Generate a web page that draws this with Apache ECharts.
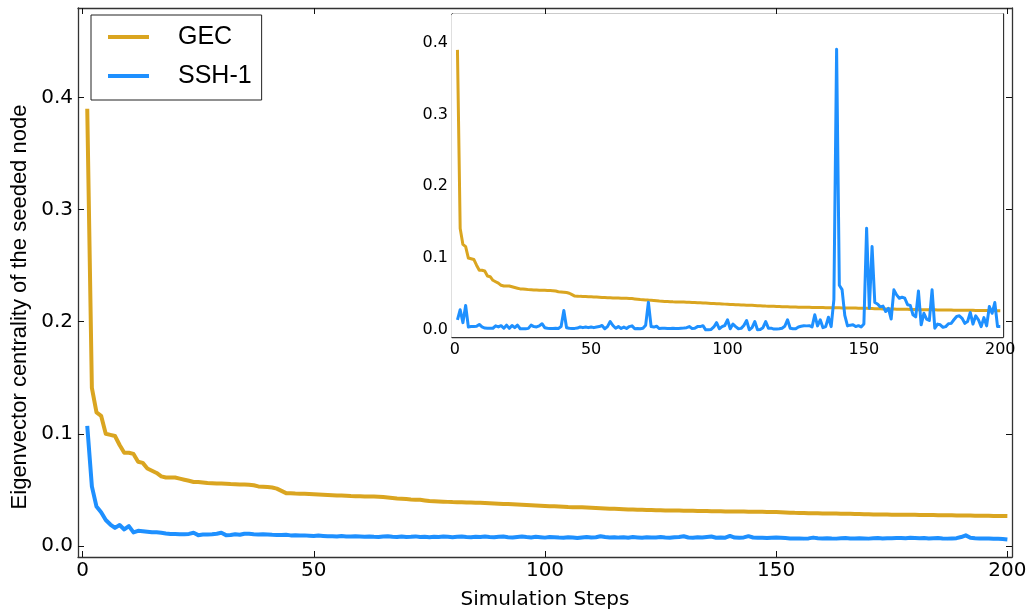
<!DOCTYPE html>
<html>
<head>
<meta charset="utf-8">
<script src="https://cdn.jsdelivr.net/npm/echarts@6/dist/echarts.min.js"></script>
<style>
  html, body { margin: 0; padding: 0; background: #fff; }
  #chart { width: 1031px; height: 614px; }
</style>
</head>
<body>
<div id="chart"></div>
<script>
// simulation steps 1..200
const steps = Array.from({ length: 200 }, (_, i) => i + 1);

// GEC (same curve in main plot and inset)
const gecValues = [
  0.390, 0.141, 0.119, 0.116, 0.100, 0.099, 0.098, 0.090, 0.083, 0.083,
  0.082, 0.075, 0.074, 0.069, 0.067, 0.065, 0.062, 0.061, 0.061, 0.061,
  0.060, 0.059, 0.058, 0.057, 0.057, 0.0565, 0.056, 0.0558, 0.0556, 0.0555,
  0.0553, 0.0551, 0.055, 0.0548, 0.0547, 0.0545, 0.054, 0.053, 0.0528, 0.0525,
  0.052, 0.051, 0.049, 0.047, 0.0468, 0.0466, 0.0465, 0.0464, 0.0462, 0.046,
  0.0458, 0.0456, 0.0454, 0.0452, 0.045, 0.0448, 0.0446, 0.0444, 0.0443, 0.0442,
  0.0441, 0.044, 0.0439, 0.0438, 0.0435, 0.0431, 0.0427, 0.0423, 0.042, 0.0417,
  0.0414, 0.0412, 0.041, 0.0405, 0.040, 0.0398, 0.0396, 0.0394, 0.0392, 0.039,
  0.0389, 0.0388, 0.0387, 0.0386, 0.0385, 0.0384, 0.0382, 0.038, 0.0378, 0.0376,
  0.0374, 0.0372, 0.037, 0.0368, 0.0366, 0.0364, 0.0362, 0.036, 0.0358, 0.0356,
  0.0354, 0.0352, 0.035, 0.0348, 0.0346, 0.0345, 0.0344, 0.0343, 0.0341, 0.0339,
  0.0337, 0.0335, 0.0333, 0.0331, 0.033, 0.0329, 0.0327, 0.0325, 0.0324, 0.0322,
  0.0321, 0.032, 0.0319, 0.0318, 0.0317, 0.0316, 0.0315, 0.0315, 0.0314, 0.0313,
  0.0312, 0.0312, 0.0311, 0.031, 0.031, 0.0309, 0.0309, 0.0308, 0.0307, 0.0306,
  0.0306, 0.0305, 0.0305, 0.0304, 0.0304, 0.0303, 0.0303, 0.0302, 0.0302, 0.0301,
  0.0300, 0.0298, 0.0296, 0.0294, 0.0293, 0.0292, 0.0291, 0.029, 0.029, 0.0289,
  0.0289, 0.0288, 0.0288, 0.0287, 0.0286, 0.0285, 0.0284, 0.0283, 0.0282, 0.0281,
  0.028, 0.028, 0.0279, 0.0279, 0.0278, 0.0278, 0.0277, 0.0277, 0.0276, 0.0276,
  0.0275, 0.0275, 0.0274, 0.0274, 0.0273, 0.0273, 0.0272, 0.0272, 0.0271, 0.0271,
  0.027, 0.027, 0.0269, 0.0269, 0.0268, 0.0268, 0.0267, 0.0267, 0.0266, 0.0265
];

// SSH-1 averaged (main plot)
const sshMean = [
  0.107, 0.053, 0.035, 0.030, 0.023, 0.019, 0.016, 0.0185, 0.0146, 0.0176,
  0.012, 0.0134, 0.013, 0.0125, 0.012, 0.012, 0.0116, 0.011, 0.0106, 0.0105,
  0.0104, 0.0104, 0.0106, 0.0116, 0.0095, 0.010, 0.010, 0.0103, 0.0108, 0.0116,
  0.0095, 0.0096, 0.0103, 0.0098, 0.0108, 0.0107, 0.0103, 0.010, 0.0102, 0.010,
  0.0098, 0.0097, 0.0096, 0.0098, 0.0093, 0.0094, 0.0091, 0.0093, 0.009, 0.0087,
  0.0091, 0.0088, 0.0085, 0.0086, 0.0083, 0.0087, 0.0084, 0.0082, 0.0085, 0.0083,
  0.008, 0.0084, 0.0081, 0.0079, 0.0083, 0.0085, 0.008, 0.0078, 0.0082, 0.0079,
  0.0081, 0.0084, 0.0078, 0.008, 0.0077, 0.0081, 0.0079, 0.0083, 0.008, 0.0077,
  0.008, 0.0082, 0.0078, 0.0076, 0.0081, 0.0079, 0.0083, 0.0078, 0.0076, 0.008,
  0.0082, 0.0077, 0.0074, 0.0079, 0.0083, 0.0078, 0.0075, 0.008, 0.0077, 0.0073,
  0.0078, 0.0076, 0.0073, 0.0072, 0.0077, 0.0074, 0.007, 0.0075, 0.0079, 0.0074,
  0.0077, 0.0085, 0.0078, 0.0075, 0.0077, 0.0073, 0.0076, 0.0072, 0.0078, 0.0075,
  0.0072, 0.0076, 0.0073, 0.0075, 0.0078, 0.0074, 0.0072, 0.0076, 0.0079, 0.0085,
  0.0074, 0.0071, 0.0076, 0.0074, 0.0079, 0.0083, 0.0072, 0.0075, 0.0072, 0.0088,
  0.0073, 0.0072, 0.0075, 0.0086, 0.0074, 0.0072, 0.0071, 0.0069, 0.0072, 0.0075,
  0.0072, 0.0069, 0.0066, 0.0065, 0.0066, 0.0064, 0.0066, 0.0073, 0.0068, 0.0066,
  0.0068, 0.0065, 0.0064, 0.0067, 0.0069, 0.0066, 0.0065, 0.0068, 0.0066, 0.0064,
  0.0067, 0.0069, 0.0066, 0.0068, 0.0067, 0.0069, 0.007, 0.0068, 0.0071, 0.0069,
  0.0067, 0.0069, 0.0065, 0.0067, 0.0069, 0.0066, 0.0064, 0.0066, 0.0068, 0.0078,
  0.0093, 0.0072, 0.0068, 0.0066, 0.0065, 0.0066, 0.0063, 0.0062, 0.006, 0.0056
];

// SSH-1 single run (inset)
const sshRun = [
  0.014, 0.028, 0.010, 0.034, 0.004, 0.0045, 0.0045, 0.005, 0.0075, 0.004,
  0.0025, 0.0022, 0.0023, 0.0022, 0.0055, 0.004, 0.0058, 0.0022, 0.0065, 0.002,
  0.006, 0.003, 0.0065, 0.0015, 0.0015, 0.0015, 0.002, 0.0065, 0.0045, 0.004,
  0.0055, 0.0085, 0.003, 0.0022, 0.002, 0.002, 0.0022, 0.002, 0.0045, 0.027,
  0.003, 0.0022, 0.002, 0.002, 0.0025, 0.004, 0.003, 0.004, 0.003, 0.004,
  0.003, 0.004, 0.0045, 0.006, 0.0015, 0.0045, 0.0115, 0.006, 0.0022, 0.0045,
  0.0018, 0.0038, 0.0018, 0.0045, 0.0055, 0.0015, 0.0018, 0.0015, 0.0022, 0.0065,
  0.0385, 0.0045, 0.0038, 0.005, 0.0018, 0.0022, 0.0022, 0.002, 0.0018, 0.0022,
  0.002, 0.0018, 0.0022, 0.0025, 0.003, 0.0045, 0.002, 0.0022, 0.0045, 0.0045,
  0.0058, 0.0, 0.0, 0.0005, 0.004, 0.010, 0.0015, 0.0045, 0.006, 0.014,
  0.0015, 0.008, 0.0045, 0.0015, 0.002, 0.006, 0.013, 0.0, 0.003, 0.0115,
  0.0, 0.0005, 0.003, 0.0115, 0.0023, 0.0023, 0.001, 0.001, 0.0015, 0.0023,
  0.005, 0.014, 0.0023, 0.0015, 0.0015, 0.004, 0.005, 0.0058, 0.0055, 0.0058,
  0.004, 0.021, 0.0055, 0.014, 0.003, 0.0045, 0.0175, 0.0045, 0.042, 0.391,
  0.062, 0.056, 0.020, 0.0055, 0.0065, 0.007, 0.0045, 0.0058, 0.004, 0.008,
  0.1416, 0.030, 0.116, 0.038, 0.036, 0.032, 0.033, 0.0255, 0.030, 0.015,
  0.0557, 0.0487, 0.044, 0.0455, 0.044, 0.035, 0.034, 0.021, 0.018, 0.054,
  0.007, 0.023, 0.015, 0.013, 0.0557, 0.0023, 0.008, 0.007, 0.0035, 0.0045,
  0.0085, 0.009, 0.014, 0.0186, 0.0195, 0.016, 0.009, 0.0115, 0.0242, 0.008,
  0.0195, 0.014, 0.0045, 0.017, 0.0055, 0.0325, 0.023, 0.038, 0.0045, 0.0045
];

const xTicks = [0, 50, 100, 150, 200];
const yTicks = [0, 0.1, 0.2, 0.3, 0.4];

const GOLD = '#DAA520';
const BLUE = '#1E90FF';
const tickFont = 'DejaVu Sans';

const pairs = vals => steps.map((s, i) => [s, vals[i]]);

// one x axis (bottom with labels, or top mirror without)
function xAx(grid, pos, fontSize, tickLen) {
  return {
    type: 'value', gridIndex: grid, position: pos, min: -1, max: 201,
    axisLine: { show: true, onZero: false, lineStyle: { color: '#333', width: 1.3 } },
    axisTick: { show: true, inside: true, length: tickLen, customValues: xTicks, lineStyle: { color: '#111', width: 1 } },
    axisLabel: {
      show: pos === 'bottom', customValues: xTicks, margin: fontSize > 18 ? 4 : 5,
      color: '#000', fontFamily: tickFont, fontSize: fontSize
    },
    splitLine: { show: false }
  };
}
function yAx(grid, pos, max, fontSize, tickLen) {
  return {
    type: 'value', gridIndex: grid, position: pos, min: -0.01, max: max,
    axisLine: { show: true, onZero: false, lineStyle: { color: '#333', width: 1.3 } },
    axisTick: { show: true, inside: true, length: tickLen, customValues: yTicks, lineStyle: { color: '#111', width: 1 } },
    axisLabel: {
      show: pos === 'left', customValues: yTicks, margin: fontSize > 18 ? 5 : 4,
      color: '#000', fontFamily: tickFont, fontSize: fontSize,
      formatter: v => v.toFixed(1)
    },
    splitLine: { show: false }
  };
}

const chart = echarts.init(document.getElementById('chart'), null, { renderer: 'canvas' });
chart.setOption({
  animation: false,
  backgroundColor: '#fff',
  grid: [
    { left: 78, top: 8, width: 934, height: 549, show: false },
    { left: 452, top: 14, width: 551, height: 323, show: true, backgroundColor: '#fff', borderWidth: 0, z: 5 }
  ],
  xAxis: [
    xAx(0, 'bottom', 20, 6),
    xAx(0, 'top', 20, 6),
    xAx(1, 'bottom', 16, 5),
    xAx(1, 'top', 16, 5)
  ],
  yAxis: [
    yAx(0, 'left', 0.48, 20, 6),
    yAx(0, 'right', 0.48, 20, 6),
    yAx(1, 'left', 0.44, 16, 5),
    yAx(1, 'right', 0.44, 16, 5)
  ],
  legend: {
    data: ['GEC', 'SSH-1'],
    orient: 'vertical',
    left: 91, top: 15,
    padding: [7, 10, 9, 17],
    itemGap: 9,
    itemWidth: 41, itemHeight: 4,
    icon: 'rect',
    backgroundColor: '#fff',
    borderColor: '#222', borderWidth: 1, borderRadius: 0,
    textStyle: {
      fontFamily: 'Liberation Sans', fontSize: 25, color: '#000', lineHeight: 30,
      padding: [0, 0, 0, 24]
    }
  },
  graphic: [
    {
      type: 'text', x: 20, y: 307, rotation: Math.PI / 2,
      style: {
        text: 'Eigenvector centrality of the seeded node',
        font: '22px "Liberation Sans"', fill: '#000',
        align: 'center', verticalAlign: 'middle'
      }
    },
    {
      type: 'text', x: 545, y: 600,
      style: {
        text: 'Simulation Steps',
        font: '20px "DejaVu Sans"', fill: '#000',
        align: 'center', verticalAlign: 'middle'
      }
    }
  ],
  series: [
    {
      name: 'GEC', type: 'line', xAxisIndex: 0, yAxisIndex: 0,
      data: pairs(gecValues), showSymbol: false, color: GOLD,
      lineStyle: { width: 4, color: GOLD, join: 'round' }
    },
    {
      name: 'SSH-1', type: 'line', xAxisIndex: 0, yAxisIndex: 0,
      data: pairs(sshMean), showSymbol: false, color: BLUE,
      lineStyle: { width: 4, color: BLUE, join: 'round' }
    },
    {
      name: 'GEC', type: 'line', xAxisIndex: 2, yAxisIndex: 2, z: 6,
      data: pairs(gecValues), showSymbol: false, color: GOLD,
      lineStyle: { width: 3, color: GOLD, join: 'round' }
    },
    {
      name: 'SSH-1', type: 'line', xAxisIndex: 2, yAxisIndex: 2, z: 7,
      data: pairs(sshRun), showSymbol: false, color: BLUE,
      lineStyle: { width: 3, color: BLUE, join: 'round' }
    }
  ]
});
</script>
</body>
</html>
